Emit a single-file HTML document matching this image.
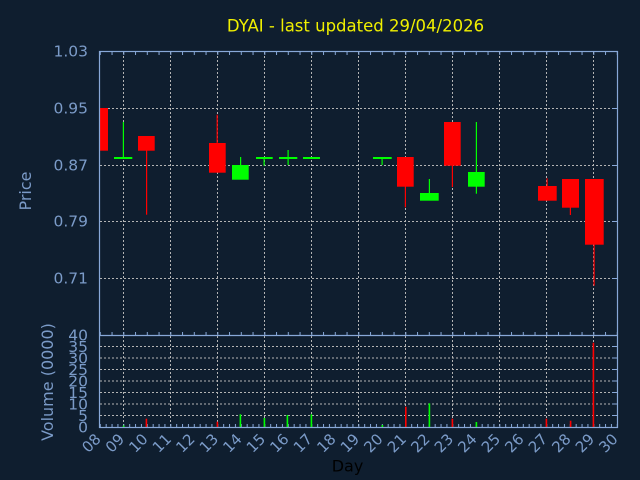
<!DOCTYPE html>
<html><head><meta charset="utf-8"><style>
html,body{margin:0;padding:0;background:#0f1e2f;}
svg{display:block;}
text{font-family:"DejaVu Sans","Liberation Sans",sans-serif;}
</style></head><body>
<svg width="640" height="480" viewBox="0 0 640 480" xmlns="http://www.w3.org/2000/svg">
<defs>
<pattern id="halfTop" patternUnits="userSpaceOnUse" x="99.8" y="0" width="11.75" height="480"><rect x="0" y="0" width="1" height="480" fill="#88a8d8"/></pattern>
<pattern id="qBot" patternUnits="userSpaceOnUse" x="99.8" y="0" width="5.875" height="480"><rect x="0" y="0" width="1" height="480" fill="#88a8d8"/></pattern>
<clipPath id="pc"><rect x="100" y="52" width="517" height="283"/></clipPath>
</defs>
<rect width="640" height="480" fill="#0f1e2f"/>
<text x="355.5" y="31.5" font-size="16.5" fill="#f0f000" text-anchor="middle">DYAI - last updated 29/04/2026</text>

<!-- grid -->
<g stroke="#b4b4b4" stroke-width="1" stroke-dasharray="2,2" fill="none">
<path d="M100 108.5H617M100 165.5H617M100 221.5H617M100 278.5H617"/>
<path d="M100 346.5H617M100 358H617M100 369.5H617M100 381H617M100 392.5H617M100 404H617M100 415.5H617"/>
<path d="M123.5 52V427M170.5 52V427M217.5 52V427M264.5 52V427M311.5 52V427M358.5 52V427M405.5 52V427M452.5 52V427M499.5 52V427M546.5 52V427M593.5 52V427"/>
</g>

<!-- ticks -->
<rect x="100" y="52" width="517" height="3" fill="url(#halfTop)"/>
<rect x="100" y="332" width="517" height="3" fill="url(#halfTop)"/>
<rect x="100" y="424" width="517" height="3" fill="url(#qBot)"/>
<g stroke="#88a8d8" stroke-width="1">
<path d="M612 108.5H617M612 165.5H617M612 221.5H617M612 278.5H617"/>
<path d="M612 346.5H617M612 358H617M612 369.5H617M612 381H617M612 392.5H617M612 404H617M612 415.5H617"/>
</g>

<!-- candles -->
<g clip-path="url(#pc)">
<g fill="#ff0000">
<rect x="91" y="108" width="17" height="42.7"/>
<rect x="146" y="150" width="1.2" height="64.7"/>
<rect x="138" y="136" width="16.7" height="14.7"/>
<rect x="216.6" y="114.7" width="1.2" height="30"/>
<rect x="209" y="143" width="16.7" height="29.7"/>
<rect x="404.8" y="180" width="1.2" height="27.3"/>
<rect x="397" y="157" width="16.7" height="29.7"/>
<rect x="451.8" y="160" width="1.2" height="27"/>
<rect x="444" y="122" width="16.7" height="43.7"/>
<rect x="546.5" y="178.3" width="1.2" height="10"/>
<rect x="538" y="186" width="18.7" height="14.7"/>
<rect x="569.8" y="200" width="1.2" height="15"/>
<rect x="562" y="179" width="17" height="28.7"/>
<rect x="593.5" y="240" width="1.2" height="45.7"/>
<rect x="585" y="179" width="18.7" height="65.7"/>
</g>
<g fill="#00ff00">
<rect x="122.8" y="122" width="1.2" height="36"/>
<rect x="114" y="157" width="18.3" height="2"/>
<rect x="240" y="157" width="1.2" height="10"/>
<rect x="232" y="165" width="16.7" height="14.7"/>
<rect x="263.5" y="157" width="1.2" height="8.7"/>
<rect x="256" y="157" width="16.7" height="2"/>
<rect x="287.5" y="150" width="1.2" height="15"/>
<rect x="279" y="157" width="18.3" height="2"/>
<rect x="303" y="157" width="17" height="2"/>
<rect x="381.5" y="157" width="1.2" height="8"/>
<rect x="373" y="157" width="18.7" height="2"/>
<rect x="428.8" y="179" width="1.2" height="16"/>
<rect x="420" y="193" width="18.7" height="7.7"/>
<rect x="475.8" y="122" width="1.2" height="71.7"/>
<rect x="468" y="172" width="16.7" height="14.7"/>
</g>
</g>

<!-- volume bars -->
<g fill="#ff0000">
<rect x="145.6" y="418.7" width="1.6" height="8.3"/>
<rect x="216.6" y="421.7" width="1.6" height="5.3"/>
<rect x="405" y="406.7" width="1.6" height="20.3"/>
<rect x="451.6" y="418.7" width="1.6" height="8.3"/>
<rect x="545.6" y="418.7" width="1.6" height="8.3"/>
<rect x="569.8" y="420.7" width="1.6" height="6.3"/>
<rect x="592.6" y="342.7" width="1.6" height="84.3"/>
</g>
<g fill="#00ff00">
<rect x="122.8" y="425.5" width="1.6" height="1.5"/>
<rect x="239.6" y="414.3" width="1.6" height="12.7"/>
<rect x="263.6" y="418" width="1.6" height="9"/>
<rect x="286.6" y="415" width="1.6" height="12"/>
<rect x="310.6" y="414.3" width="1.6" height="12.7"/>
<rect x="381.6" y="425" width="1.6" height="2"/>
<rect x="428.6" y="403.3" width="1.6" height="23.7"/>
<rect x="475.6" y="422" width="1.6" height="5"/>
</g>

<!-- axes frame -->
<g stroke="#88a8d8" stroke-width="1.2" fill="none">
<rect x="99.5" y="51.5" width="518" height="376"/>
<path d="M99.5 335.5H617.5"/>
</g>

<!-- y labels -->
<g font-size="15.5" fill="#7b9bc8" text-anchor="end">
<text x="88" y="56.3">1.03</text>
<text x="88" y="113.5">0.95</text>
<text x="88" y="170.3">0.87</text>
<text x="88" y="226.5">0.79</text>
<text x="88" y="283.5">0.71</text>
<text x="88" y="340.5">40</text>
<text x="88" y="352">35</text>
<text x="88" y="363.5">30</text>
<text x="88" y="375">25</text>
<text x="88" y="386.5">20</text>
<text x="88" y="398">15</text>
<text x="88" y="409.5">10</text>
<text x="88" y="421">5</text>
<text x="88" y="432.5">0</text>
</g>
<text transform="translate(31,191) rotate(-90)" font-size="16" fill="#7b9bc8" text-anchor="middle">Price</text>
<text transform="translate(53,382) rotate(-90)" font-size="16" fill="#7b9bc8" text-anchor="middle">Volume (0000)</text>

<!-- x labels -->
<g font-size="15" fill="#7b9bc8" text-anchor="end">
<text transform="translate(101.8,440) rotate(-45)">08</text>
<text transform="translate(125.3,440) rotate(-45)">09</text>
<text transform="translate(148.8,440) rotate(-45)">10</text>
<text transform="translate(172.3,440) rotate(-45)">11</text>
<text transform="translate(195.8,440) rotate(-45)">12</text>
<text transform="translate(219.3,440) rotate(-45)">13</text>
<text transform="translate(242.8,440) rotate(-45)">14</text>
<text transform="translate(266.3,440) rotate(-45)">15</text>
<text transform="translate(289.8,440) rotate(-45)">16</text>
<text transform="translate(313.3,440) rotate(-45)">17</text>
<text transform="translate(336.8,440) rotate(-45)">18</text>
<text transform="translate(360.3,440) rotate(-45)">19</text>
<text transform="translate(383.8,440) rotate(-45)">20</text>
<text transform="translate(407.3,440) rotate(-45)">21</text>
<text transform="translate(430.8,440) rotate(-45)">22</text>
<text transform="translate(454.3,440) rotate(-45)">23</text>
<text transform="translate(477.8,440) rotate(-45)">24</text>
<text transform="translate(501.3,440) rotate(-45)">25</text>
<text transform="translate(524.8,440) rotate(-45)">26</text>
<text transform="translate(548.3,440) rotate(-45)">27</text>
<text transform="translate(571.8,440) rotate(-45)">28</text>
<text transform="translate(595.3,440) rotate(-45)">29</text>
<text transform="translate(618.8,440) rotate(-45)">30</text>
</g>
<text x="347.5" y="471.5" font-size="16" fill="#000000" text-anchor="middle">Day</text>
</svg>
</body></html>
